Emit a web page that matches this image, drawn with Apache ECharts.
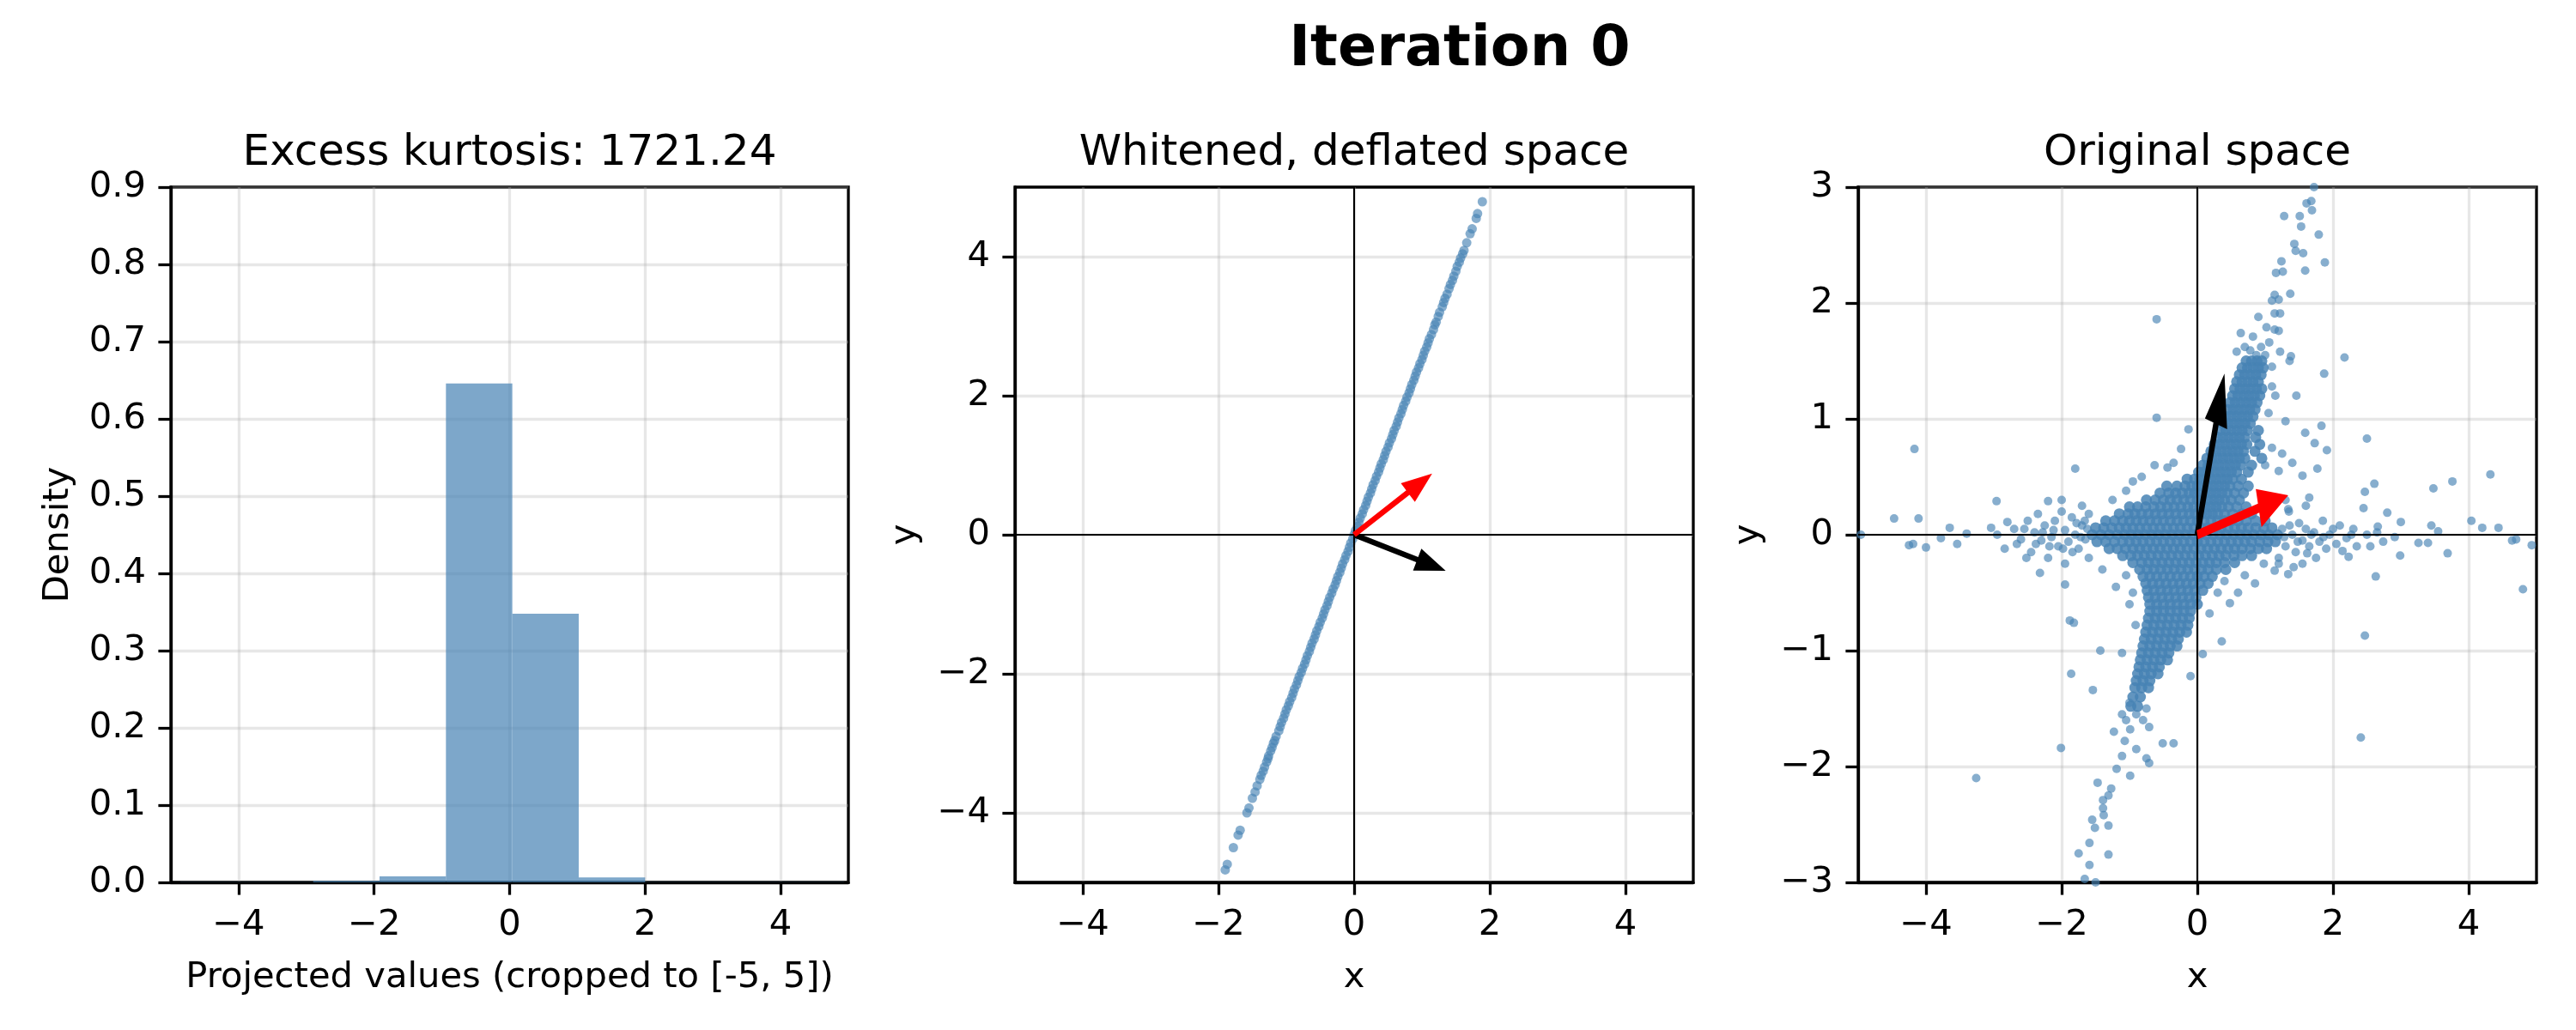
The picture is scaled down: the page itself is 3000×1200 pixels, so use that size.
<!DOCTYPE html>
<html><head><meta charset="utf-8">
<script src="https://cdn.jsdelivr.net/npm/echarts@6/dist/echarts.min.js"></script>
<style>html,body{margin:0;padding:0;background:#fff}#c{width:3000px;height:1200px}</style>
</head><body><div id="c"></div><script>
// ---------- data ----------
const binEdges = [-4.86, -3.88, -2.90, -1.92, -0.94, 0.04, 1.02, 2.00, 2.98, 3.96, 4.94];
const binDensity = [0.0002, 0.0003, 0.002, 0.0077, 0.6458, 0.3478, 0.0064, 0.0004, 0.0002, 0.0002];

const histXTicks = [-4, -2, 0, 2, 4];
const whitenedTicks = [-4, -2, 0, 2, 4];
const originalXTicks = [-4, -2, 0, 2, 4];
const originalYTicks = [-3, -2, -1, 0, 1, 2, 3];

// Whitened, deflated space: points on a line
const whitenedPoints = [
[-1.90,-4.82],[-1.87,-4.74],[-1.78,-4.50],[-1.71,-4.32],[-1.68,-4.25],[-1.58,-4.00],[-1.55,-3.93],[-1.50,-3.79],[-1.46,-3.70],[-1.43,-3.61],
[-1.39,-3.52],[-1.37,-3.46],[-1.34,-3.40],[-1.32,-3.34],[-1.29,-3.27],[-1.27,-3.22],[-1.26,-3.18],[-1.23,-3.11],[-1.21,-3.06],[-1.19,-3.00],
[-1.17,-2.96],[-1.15,-2.90],[-1.11,-2.82],[-1.09,-2.76],
[-1.07,-2.70],[-1.04,-2.64],[-1.02,-2.58],[-1.00,-2.52],[-0.97,-2.46],[-0.95,-2.40],[-0.92,-2.34],[-0.90,-2.28],[-0.88,-2.22],[-0.85,-2.16],
[-0.83,-2.10],[-0.81,-2.04],[-0.78,-1.98],[-0.76,-1.92],[-0.73,-1.86],[-0.71,-1.80],[-0.69,-1.74],[-0.66,-1.68],[-0.64,-1.62],[-0.62,-1.56],
[-0.59,-1.50],[-0.57,-1.44],[-0.55,-1.38],[-0.52,-1.32],[-0.50,-1.26],[-0.47,-1.20],[-0.45,-1.14],[-0.43,-1.08],[-0.40,-1.02],[-0.38,-0.96],
[-0.36,-0.90],[-0.33,-0.84],[-0.31,-0.78],[-0.28,-0.72],[-0.26,-0.66],[-0.24,-0.60],[-0.21,-0.54],[-0.19,-0.48],[-0.17,-0.42],[-0.14,-0.36],
[-0.12,-0.30],[-0.09,-0.24],[-0.07,-0.18],[-0.05,-0.12],[-0.02,-0.06],[0.00,0.00],
[0.02,0.06],[0.05,0.12],[0.07,0.18],[0.09,0.24],[0.12,0.30],[0.14,0.36],[0.17,0.42],[0.19,0.48],[0.21,0.54],[0.24,0.60],
[0.26,0.66],[0.28,0.72],[0.31,0.78],[0.33,0.84],[0.36,0.90],[0.38,0.96],[0.40,1.02],[0.43,1.08],[0.45,1.14],[0.47,1.20],
[0.50,1.26],[0.52,1.32],[0.55,1.38],[0.57,1.44],[0.59,1.50],[0.62,1.56],[0.64,1.62],[0.66,1.68],[0.69,1.74],[0.71,1.80],
[0.73,1.86],[0.76,1.92],[0.78,1.98],[0.81,2.04],[0.83,2.10],[0.85,2.16],[0.88,2.22],[0.90,2.28],[0.92,2.34],[0.95,2.40],
[0.97,2.46],[1.00,2.52],[1.02,2.58],[1.04,2.64],[1.07,2.70],
[1.09,2.76],[1.11,2.82],[1.14,2.88],[1.17,2.95],[1.19,3.02],[1.21,3.06],[1.24,3.14],[1.26,3.20],[1.30,3.28],[1.32,3.34],
[1.34,3.40],[1.37,3.46],[1.40,3.54],[1.42,3.60],[1.45,3.66],[1.47,3.72],[1.50,3.79],[1.52,3.86],[1.55,3.92],[1.57,3.98],
[1.60,4.04],[1.62,4.09],[1.66,4.20],[1.71,4.33],[1.74,4.40],[1.80,4.55],[1.82,4.62],[1.89,4.79]
];

// Original space: dense core, one row per y level: [y, x1, x2, ...]
const originalCoreRows = [
[1.50, 0.72,0.80,0.88,0.95],
[1.44, 0.66,0.74,0.82,0.90,0.97],
[1.38, 0.62,0.70,0.78,0.86,0.94],
[1.32, 0.58,0.66,0.74,0.82,0.90],
[1.26, 0.55,0.63,0.71,0.79,0.87,0.95],
[1.20, 0.52,0.60,0.68,0.76,0.84,0.92],
[1.14, 0.48,0.56,0.64,0.72,0.80,0.88],
[1.08, 0.45,0.53,0.61,0.69,0.77,0.85],
[1.02, 0.42,0.50,0.58,0.66,0.74,0.82],
[0.96, 0.38,0.46,0.54,0.62,0.70,0.78],
[0.90, 0.34,0.42,0.50,0.58,0.66,0.74,0.90],
[0.84, 0.30,0.38,0.46,0.54,0.62,0.70,0.86],
[0.78, 0.25,0.33,0.41,0.49,0.57,0.65,0.73,0.92],
[0.72, 0.20,0.28,0.36,0.44,0.52,0.60,0.68,0.85],
[0.66, 0.14,0.22,0.30,0.38,0.46,0.54,0.62,0.70,0.95],
[0.60, 0.08,0.16,0.24,0.32,0.40,0.48,0.56,0.64,0.80],
[0.54, 0.02,0.10,0.18,0.26,0.34,0.42,0.50,0.58,0.75],
[0.48, -0.15,-0.04,0.04,0.12,0.20,0.28,0.36,0.44,0.52,0.65],
[0.42, -0.45,-0.30,-0.18,-0.08,0.00,0.08,0.16,0.24,0.32,0.40,0.48,0.60,0.75],
[0.36, -0.55,-0.42,-0.32,-0.22,-0.12,-0.04,0.04,0.12,0.20,0.28,0.36,0.44,0.55,0.68],
[0.30, -0.75,-0.62,-0.50,-0.40,-0.30,-0.20,-0.10,0.00,0.08,0.16,0.24,0.32,0.40,0.50,0.62],
[0.24, -1.00,-0.88,-0.76,-0.64,-0.54,-0.44,-0.34,-0.24,-0.14,-0.05,0.04,0.12,0.20,0.28,0.36,0.46,0.58,0.72],
[0.18, -1.15,-1.02,-0.92,-0.82,-0.72,-0.62,-0.52,-0.42,-0.32,-0.22,-0.12,-0.03,0.06,0.14,0.22,0.30,0.40,0.52,0.66,0.80],
[0.12, -1.35,-1.22,-1.10,-1.00,-0.90,-0.80,-0.70,-0.60,-0.50,-0.40,-0.30,-0.20,-0.10,0.00,0.10,0.20,0.30,0.40,0.50,0.60,0.72,0.86,1.00],
[0.06, -1.50,-1.38,-1.26,-1.15,-1.05,-0.95,-0.85,-0.75,-0.65,-0.55,-0.45,-0.35,-0.25,-0.15,-0.05,0.05,0.15,0.25,0.35,0.45,0.55,0.65,0.75,0.86,0.98,1.10],
[0.00, -1.55,-1.42,-1.30,-1.18,-1.07,-0.97,-0.87,-0.77,-0.67,-0.57,-0.47,-0.37,-0.27,-0.17,-0.07,0.03,0.13,0.23,0.33,0.43,0.53,0.63,0.73,0.83,0.94,1.05,1.18],
[-0.06, -1.48,-1.35,-1.22,-1.10,-1.00,-0.90,-0.80,-0.70,-0.60,-0.50,-0.40,-0.30,-0.20,-0.10,0.00,0.10,0.20,0.30,0.40,0.50,0.60,0.70,0.80,0.92,1.04,1.15],
[-0.12, -1.30,-1.18,-1.06,-0.95,-0.85,-0.75,-0.65,-0.55,-0.45,-0.35,-0.25,-0.15,-0.05,0.05,0.15,0.25,0.35,0.45,0.55,0.66,0.78,0.90,1.02],
[-0.18, -1.10,-0.98,-0.88,-0.78,-0.68,-0.58,-0.48,-0.38,-0.28,-0.18,-0.08,0.02,0.12,0.22,0.32,0.42,0.54,0.66,0.80],
[-0.24, -0.95,-0.82,-0.72,-0.62,-0.52,-0.42,-0.32,-0.22,-0.12,-0.02,0.08,0.18,0.28,0.40,0.55],
[-0.30, -0.85,-0.74,-0.64,-0.54,-0.44,-0.34,-0.24,-0.14,-0.04,0.06,0.16,0.28,0.42],
[-0.36, -0.80,-0.70,-0.60,-0.50,-0.40,-0.30,-0.20,-0.10,0.00,0.10,0.22],
[-0.42, -0.76,-0.66,-0.56,-0.46,-0.36,-0.26,-0.16,-0.06,0.04,0.16],
[-0.48, -0.74,-0.64,-0.54,-0.44,-0.34,-0.24,-0.14,-0.04,0.08],
[-0.54, -0.72,-0.62,-0.52,-0.42,-0.32,-0.22,-0.12,-0.02],
[-0.60, -0.70,-0.60,-0.50,-0.40,-0.30,-0.20,-0.10,0.00],
[-0.66, -0.70,-0.60,-0.50,-0.40,-0.30,-0.20,-0.10],
[-0.72, -0.72,-0.62,-0.52,-0.42,-0.32,-0.22,-0.12],
[-0.78, -0.74,-0.64,-0.54,-0.44,-0.34,-0.24,-0.14],
[-0.84, -0.76,-0.66,-0.56,-0.46,-0.36,-0.26,-0.16],
[-0.90, -0.78,-0.68,-0.58,-0.48,-0.38,-0.28],
[-0.96, -0.80,-0.70,-0.60,-0.50,-0.40,-0.30],
[-1.02, -0.82,-0.72,-0.62,-0.52,-0.42],
[-1.08, -0.84,-0.74,-0.64,-0.54,-0.44],
[-1.14, -0.86,-0.76,-0.66,-0.56],
[-1.20, -0.88,-0.78,-0.68,-0.58],
[-1.26, -0.90,-0.80,-0.70],
[-1.32, -0.92,-0.82,-0.72],
[-1.40, -0.95,-0.84],
[-1.48, -0.98,-0.88]
];

// Original space: scattered points and arms
const originalSparse = [
[-4.96,0.00],[-4.47,0.14],[-4.17,0.74],[-4.11,0.14],[-4.25,-0.09],[-4.19,-0.08],[-4.00,-0.11],[-3.78,-0.03],[-3.65,0.06],[-3.54,-0.08],
[-3.40,0.01],[-3.26,-2.10],[-3.04,0.06],[-2.96,0.29],[-2.95,0.00],[-2.84,-0.12],[-2.80,0.11],[-2.66,-0.08],[-2.52,-0.20],[-2.32,-0.33],
[-2.20,0.29],[-2.00,0.30],[-1.95,-0.43],[-1.88,-0.74],[-1.82,-0.76],[-1.86,-1.20],[-2.01,-1.84],[-1.80,0.57],
[-2.40,0.02],[-2.30,-0.05],[-2.25,0.08],[-2.15,-0.02],[-2.10,0.12],[-2.05,-0.10],[-1.95,0.04],[-1.90,-0.06],[-1.85,0.15],[-1.80,0.00],
[-1.75,-0.12],[-1.70,0.08],[-1.65,-0.04],[-1.60,0.18],[-1.60,-0.20],[-2.50,0.12],[-2.60,-0.04],[-2.70,0.05],[-2.45,-0.15],[-2.20,-0.20],
[-1.95,-0.25],[-1.70,0.25],[-2.00,0.20],[-2.35,0.18],[-2.55,0.05],[-2.28,0.02],[-2.12,0.04],[-1.98,-0.12],[-1.84,-0.15],[-1.72,-0.02],
[-1.62,0.05],[-1.66,0.12],[-2.18,-0.10],[-2.38,-0.08],[-1.78,0.10],
[-0.95,0.46],[-0.63,0.60],[-0.44,0.58],[-0.60,1.01],[-0.60,1.86],[-0.24,0.74],[-0.13,0.91],[-1.25,0.30],[-1.05,0.38],[-0.82,0.50],[-0.35,0.62],
[2.17,1.53],[1.87,1.39],[1.46,1.20],[1.30,0.98],[1.83,0.94],[1.59,0.88],[1.91,0.73],[1.73,0.79],[2.50,0.83],[1.77,0.57],
[1.55,0.51],[1.65,0.32],[1.34,0.22],[2.61,0.44],[2.47,0.37],[2.80,0.19],[3.00,0.11],[2.66,0.07],[2.45,0.23],[1.20,0.55],
[1.10,0.75],[1.25,0.70],[1.40,0.62],[1.05,1.05],[1.15,1.20],[1.00,0.60],
[3.48,0.40],[3.76,0.46],[4.32,0.52],[4.04,0.12],[4.20,0.06],[4.44,0.06],[4.64,-0.05],[4.70,-0.04],[4.93,-0.09],[4.80,-0.47],
[3.69,-0.16],[3.45,0.08],[3.55,0.03],[3.40,-0.07],[3.26,-0.07],[2.99,-0.18],[2.91,-0.02],[2.74,-0.06],[2.63,-0.36],[2.47,-0.87],
[2.41,-1.75],[2.23,-0.19],[2.27,0.00],
[1.25,0.05],[1.30,-0.10],[1.40,0.00],[1.45,-0.15],[1.50,0.10],[1.55,-0.05],[1.60,0.05],[1.65,-0.10],[1.72,0.02],[1.80,-0.06],
[1.85,0.12],[1.90,-0.12],[1.95,0.00],[2.05,-0.08],[2.10,0.08],[2.20,-0.03],[2.30,0.05],[2.35,-0.10],[1.35,0.20],[1.55,-0.25],
[1.75,-0.20],[1.20,-0.20],[1.30,0.30],[1.60,0.25],[2.50,0.00],[2.55,-0.10],[2.65,0.02],[1.28,-0.02],[1.36,0.08],[1.48,-0.06],
[1.68,0.00],[1.86,-0.02],[2.00,0.05],[2.14,-0.14],[1.42,-0.28],[1.62,-0.16],
[0.36,-0.92],[0.08,-1.03],[-0.10,-1.22],[0.48,-0.59],[0.18,-0.68],[1.14,-0.31],[1.34,-0.34],[0.98,-0.25],[1.20,-0.25],[0.70,-0.35],
[0.85,-0.42],[0.60,-0.50],[0.30,-0.50],[0.40,-0.40],
[-1.43,-1.00],[-1.54,-1.34],[-1.11,-1.02],[-0.91,-0.78],[-1.00,-0.60],[-1.20,-0.45],[-1.05,-0.35],[-1.40,-0.30],[-0.95,-0.50],
[-1.11,-1.55],[-0.99,-1.68],[-0.71,-1.66],[-0.51,-1.80],[-0.35,-1.80],[-1.23,-1.70],[-1.07,-1.78],[-1.11,-1.91],[-1.19,-2.02],[-0.99,-2.08],
[-0.75,-1.93],[-0.71,-1.97],[-1.47,-2.14],[-1.27,-2.19],[-1.31,-2.25],[-1.39,-2.29],[-1.39,-2.36],[-1.38,-2.42],[-1.31,-2.51],[-1.55,-2.46],
[-1.51,-2.53],[-1.59,-2.66],[-1.75,-2.75],[-1.31,-2.76],[-1.59,-2.85],[-1.66,-2.97],[-1.50,-3.00],[-0.90,-1.55],[-0.80,-1.60],[-1.00,-1.45],
[-0.75,-1.50],[-1.05,-1.60],[-0.90,-1.85],
[1.24,2.36],[1.59,2.28],[1.88,2.35],[1.43,2.51],[1.56,2.43],[1.45,2.45],[1.28,2.75],[1.51,2.75],[1.53,2.66],[1.61,2.86],
[1.68,2.88],[1.69,2.80],[1.72,3.00],[1.79,2.59],[1.16,2.26],[1.26,2.27],[1.14,2.07],[1.20,2.03],[1.10,2.02],[1.37,2.08],
[1.14,1.91],[1.22,1.91],[0.90,1.88],[1.02,1.79],[1.14,1.77],[1.20,1.76],[0.64,1.74],[0.82,1.71],[0.78,1.59],[0.94,1.62],
[0.58,1.58],[1.06,1.66],[1.22,1.58],[1.38,1.54],[1.36,1.50],[1.10,1.28],[1.00,1.55],[0.70,1.62],[0.87,1.55],[1.10,1.45]
];

// Arrows: [x0, y0, x1(tip), y1(tip)]
const whitenedBlackArrow = [[0, 0, 1.35, -0.52]];
const whitenedRedArrow = [[0, 0, 1.15, 0.88]];
const originalBlackArrow = [[0, 0, 0.40, 1.39]];
const originalRedArrow = [[0, 0, 1.34, 0.34]];

// ---------- rendering ----------
const FONT = 'DejaVu Sans';
const BLUE = '#4682B4';
const TICK_FS = 41.7;
const GRIDS = [
  {left: 199, top: 218, width: 789, height: 810},
  {left: 1182, top: 218, width: 790, height: 810},
  {left: 2164, top: 218, width: 790, height: 810}
];
const minus = v => String(v).replace('-', '\u2212');
const splitLine = {show: true, lineStyle: {color: '#b0b0b0', opacity: 0.3, width: 3.3}};
const tickStyle = () => ({show: true, inside: false, length: 14.6, lineStyle: {color: '#000', width: 3.3}});
const labelStyle = {color: '#000', fontSize: TICK_FS, fontFamily: FONT, margin: 29};
const nameStyle = {color: '#000', fontSize: TICK_FS, fontFamily: FONT};
const axisLineStyle = () => ({show: true, onZero: false, lineStyle: {color: '#000', width: 3.3}});

function xAxisFor(i, ticks, name, gap) {
  return {
    gridIndex: i, type: 'value', min: -5, max: 5, splitNumber: 5, position: 'bottom',
    axisLine: axisLineStyle(),
    axisTick: Object.assign({customValues: ticks}, tickStyle()),
    axisLabel: Object.assign({customValues: ticks, formatter: minus}, labelStyle),
    splitLine: splitLine,
    name: name, nameLocation: 'middle', nameGap: gap, nameTextStyle: nameStyle
  };
}

const HL = 0.45, HW = 0.34, SW = 0.08;
function arrowRender(params, api) {
  const x0 = api.value(0), y0 = api.value(1), x1 = api.value(2), y1 = api.value(3);
  const dx = x1 - x0, dy = y1 - y0, L = Math.hypot(dx, dy);
  const ux = dx / L, uy = dy / L, nx = -uy, ny = ux;
  const bx = x1 - ux * HL, by = y1 - uy * HL;
  const pts = [
    [x0 + nx * SW / 2, y0 + ny * SW / 2], [bx + nx * SW / 2, by + ny * SW / 2], [bx + nx * HW / 2, by + ny * HW / 2],
    [x1, y1],
    [bx - nx * HW / 2, by - ny * HW / 2], [bx - nx * SW / 2, by - ny * SW / 2], [x0 - nx * SW / 2, y0 - ny * SW / 2]
  ].map(p => api.coord(p));
  return {type: 'polygon', shape: {points: pts}, style: {fill: api.visual('color')}};
}
function arrowSeries(idx, data, color) {
  return {type: 'custom', xAxisIndex: idx, yAxisIndex: idx, data: data, renderItem: arrowRender,
    itemStyle: {color: color}, encode: {x: [0, 2], y: [1, 3]}, z: 5, silent: true, clip: false};
}
function zeroLines(idx, ymin, ymax) {
  const ls = {color: '#000', width: 2.1};
  return [
    {type: 'line', xAxisIndex: idx, yAxisIndex: idx, data: [[-5, 0], [5, 0]], showSymbol: false, symbol: 'none', lineStyle: ls, z: 4, silent: true},
    {type: 'line', xAxisIndex: idx, yAxisIndex: idx, data: [[0, ymin], [0, ymax]], showSymbol: false, symbol: 'none', lineStyle: ls, z: 4, silent: true}
  ];
}

const originalCore = originalCoreRows.flatMap(r => r.slice(1).map(x => [x, r[0]]));
const histData = binDensity.map((d, i) => [binEdges[i], binEdges[i + 1], d]);

const chart = echarts.init(document.getElementById('c'), null, {renderer: 'canvas'});
chart.setOption({
  animation: false,
  backgroundColor: '#fff',
  grid: GRIDS.map(g => Object.assign({show: true, borderColor: '#000', borderWidth: 3.3, backgroundColor: 'transparent', containLabel: false}, g)),
  xAxis: [
    xAxisFor(0, histXTicks, 'Projected values (cropped to [-5, 5])', 90),
    xAxisFor(1, whitenedTicks, 'x', 90),
    xAxisFor(2, originalXTicks, 'x', 90)
  ],
  yAxis: [
    {gridIndex: 0, type: 'value', min: 0, max: 0.9, interval: 0.1, position: 'left',
     axisLine: axisLineStyle(), axisTick: tickStyle(),
     axisLabel: Object.assign({formatter: v => v.toFixed(1)}, labelStyle),
     splitLine: splitLine, name: 'Density', nameLocation: 'middle', nameGap: 110, nameTextStyle: nameStyle},
    {gridIndex: 1, type: 'value', min: -5, max: 5, splitNumber: 5, position: 'left',
     axisLine: axisLineStyle(), axisTick: Object.assign({customValues: whitenedTicks}, tickStyle()),
     axisLabel: Object.assign({customValues: whitenedTicks, formatter: minus}, labelStyle),
     splitLine: splitLine, name: 'y', nameLocation: 'middle', nameGap: 107, nameTextStyle: nameStyle},
    {gridIndex: 2, type: 'value', min: -3, max: 3, interval: 1, position: 'left',
     axisLine: axisLineStyle(), axisTick: Object.assign({customValues: originalYTicks}, tickStyle()),
     axisLabel: Object.assign({customValues: originalYTicks, formatter: minus}, labelStyle),
     splitLine: splitLine, name: 'y', nameLocation: 'middle', nameGap: 107, nameTextStyle: nameStyle}
  ],
  graphic: [
    {type: 'text', x: 1700, y: 59, style: {text: 'Iteration 0', font: 'bold 66.7px "DejaVu Sans"', fill: '#000', align: 'center', verticalAlign: 'middle'}},
    {type: 'text', x: 593.5, y: 179, style: {text: 'Excess kurtosis: 1721.24', font: '50px "DejaVu Sans"', fill: '#000', align: 'center', verticalAlign: 'middle'}},
    {type: 'text', x: 1577, y: 179, style: {text: 'Whitened, deflated space', font: '50px "DejaVu Sans"', fill: '#000', align: 'center', verticalAlign: 'middle'}},
    {type: 'text', x: 2559, y: 179, style: {text: 'Original space', font: '50px "DejaVu Sans"', fill: '#000', align: 'center', verticalAlign: 'middle'}}
  ],
  series: [
    {type: 'custom', xAxisIndex: 0, yAxisIndex: 0, data: histData, encode: {x: [0, 1], y: 2}, silent: true,
     renderItem: (params, api) => {
       const p0 = api.coord([api.value(0), api.value(2)]);
       const p1 = api.coord([api.value(1), 0]);
       return {type: 'rect', shape: {x: p0[0], y: p0[1], width: p1[0] - p0[0], height: p1[1] - p0[1]},
               style: {fill: 'rgba(70,130,180,0.7)'}};
     }},
    {type: 'scatter', xAxisIndex: 1, yAxisIndex: 1, data: whitenedPoints, symbolSize: 11,
     itemStyle: {color: BLUE, opacity: 0.65}, z: 2, silent: true},
    ...zeroLines(1, -5, 5),
    arrowSeries(1, whitenedBlackArrow, '#000'),
    arrowSeries(1, whitenedRedArrow, '#ff0000'),
    {type: 'scatter', xAxisIndex: 2, yAxisIndex: 2, data: originalCore, symbolSize: 13,
     itemStyle: {color: BLUE, opacity: 0.85}, z: 2, silent: true},
    {type: 'scatter', xAxisIndex: 2, yAxisIndex: 2, data: originalSparse, symbolSize: 10,
     itemStyle: {color: BLUE, opacity: 0.65}, z: 2, silent: true},
    ...zeroLines(2, -3, 3),
    arrowSeries(2, originalBlackArrow, '#000'),
    arrowSeries(2, originalRedArrow, '#ff0000')
  ]
});
</script></body></html>
